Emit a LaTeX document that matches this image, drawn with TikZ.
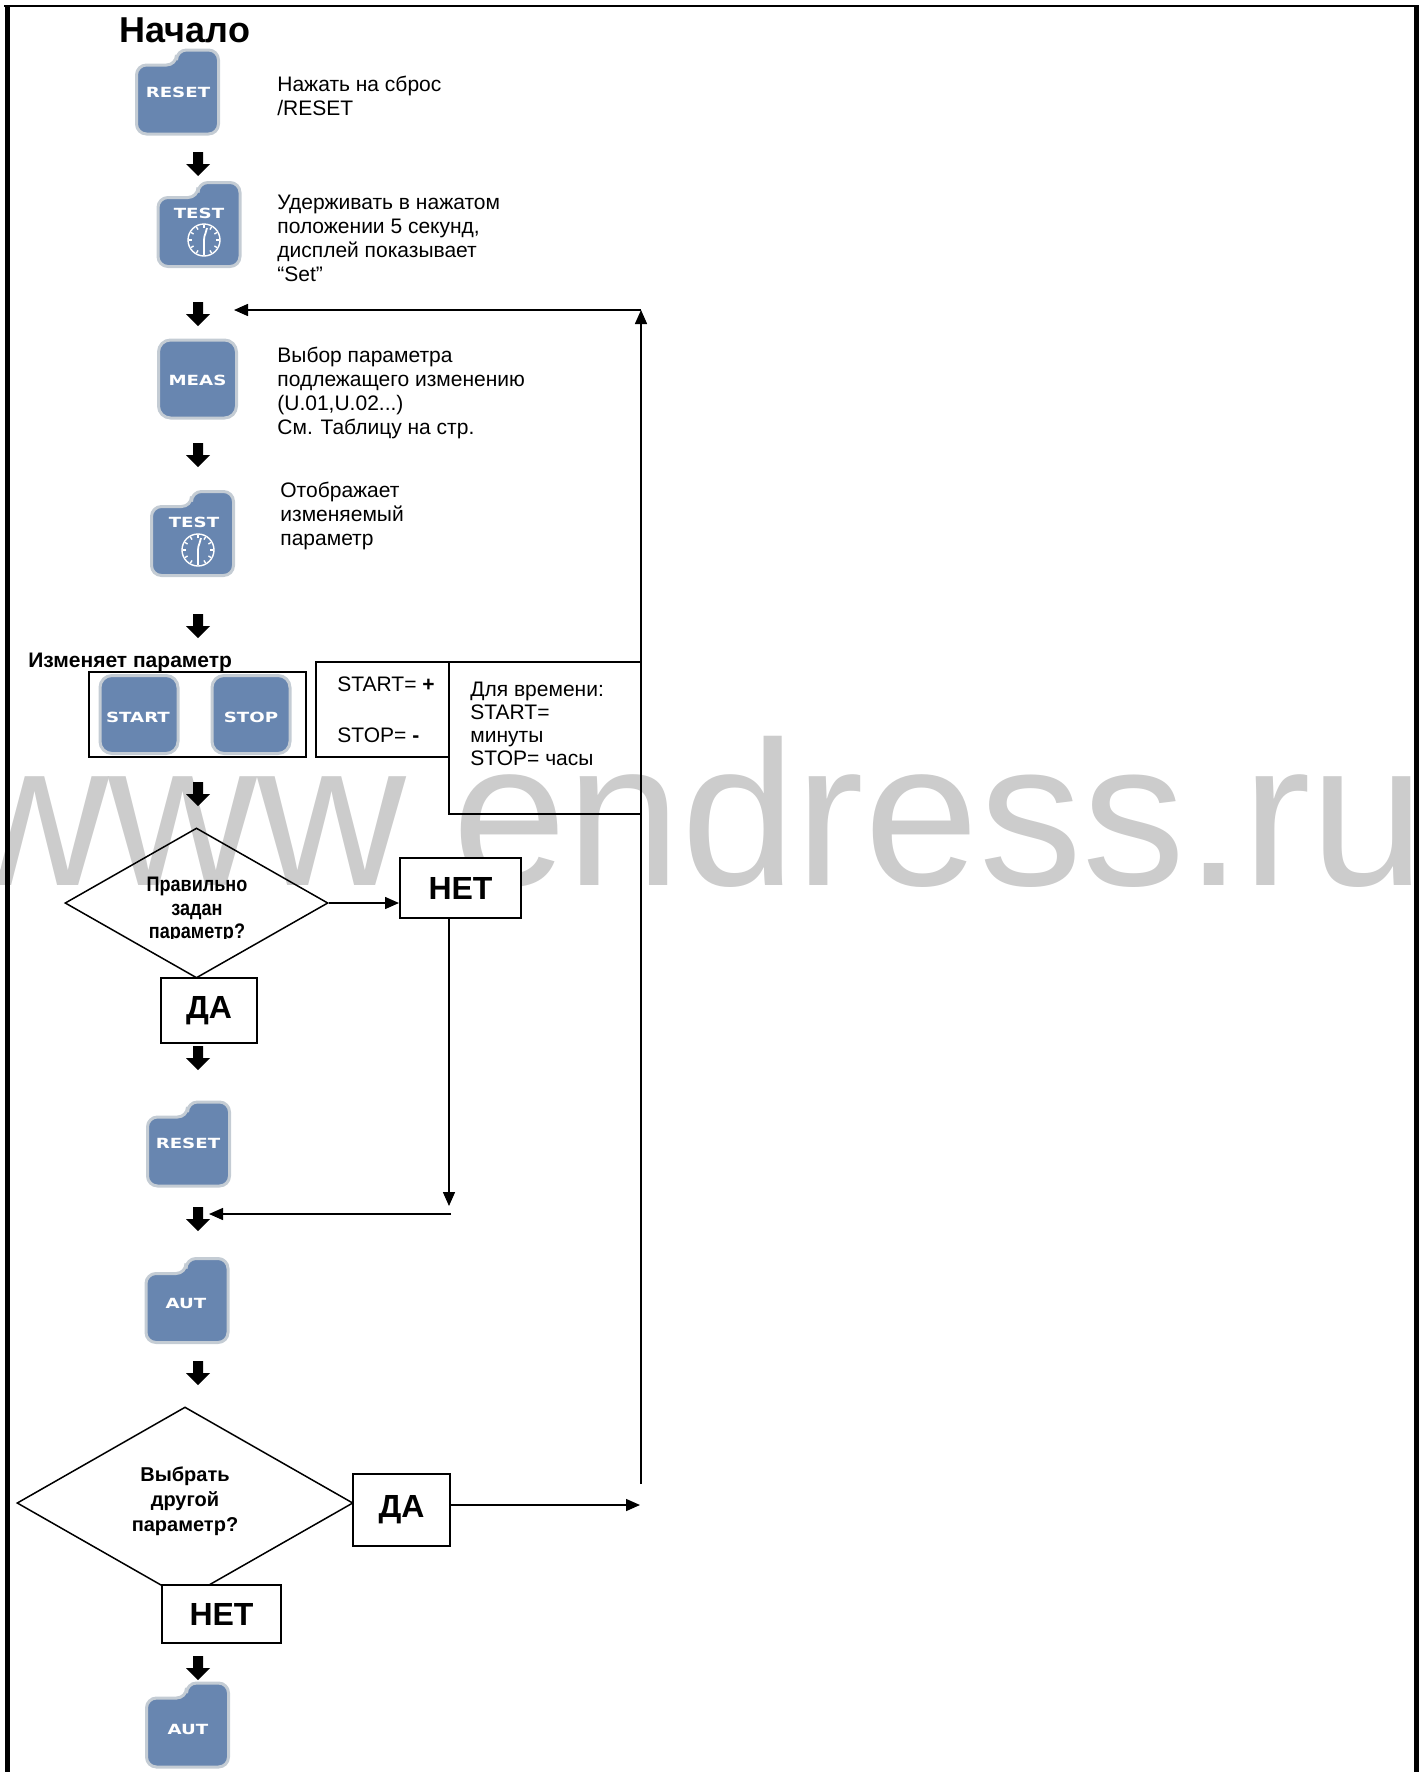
\documentclass[tikz,border=0pt]{standalone}
\usepackage{fontspec}
\setmainfont{Liberation Sans}
\newfontfamily\narrowfont[FakeStretch=0.86]{Liberation Sans}
\newfontfamily\keyfont[FakeStretch=1.3]{DejaVu Sans}
\usetikzlibrary{arrows.meta,shapes.geometric}
\definecolor{keyblue}{RGB}{104,134,176}
\definecolor{keyrim}{RGB}{196,204,212}
\definecolor{wmgray}{RGB}{204,204,204}

\tikzset{
  tabkey/.pic={\filldraw[draw=keyrim,fill=keyblue,line width=1.5pt,rounded corners=5pt]
      (-41,-27) -- (-1,-27) -- (-1,-42) -- (41,-42) -- (41,42) -- (-41,42) -- cycle;},
  flatkey/.pic={\filldraw[draw=keyrim,fill=keyblue,line width=1.5pt,rounded corners=6pt]
      (-39,-39) rectangle (39,39);},
  dial/.pic={\draw[white,line width=0.7pt] (0,0) circle (16);
      \foreach \a in {0,30,...,330} \draw[white,line width=0.7pt] (\a:12) -- (\a:15);
      \draw[white,line width=0.9pt] (0,13) -- (0,0) .. controls (0,-6) and (3,-8) .. (3,-12);},
  fatdown/.pic={\fill (-5,0) -- (5,0) -- (5,12) -- (12,12) -- (0,24) -- (-12,12) -- (-5,12) -- cycle;},
  keylbl/.style={text=white,inner sep=0,font=\keyfont\bfseries\fontsize{7}{8}\selectfont},
  body/.style={inner sep=0,font=\fontsize{10.5}{12}\selectfont},
  note/.style={body,anchor=north west,align=left},
  thinline/.style={line width=0.75pt},
  linkarrow/.style={thinline,-{Triangle[length=7pt,width=6pt]}},
  ansbox/.style={draw,line width=1pt,fill=white,inner sep=0,font=\bfseries\fontsize{16}{18}\selectfont},
  dtextA/.style={align=center,inner sep=0,font=\narrowfont\bfseries\fontsize{10.5}{11.75}\selectfont},
  dtextB/.style={align=center,inner sep=0,font=\bfseries\fontsize{10}{12.5}\selectfont},
}

\begin{document}
\begin{tikzpicture}
\tikzset{x={(0.5pt,0pt)}, y={(0pt,-0.5pt)}}
\useasboundingbox (0,0) rectangle (1424,1772);

\draw[thinline] (316,662) rectangle (462,757);
\fill[white] (449,662) rectangle (641,814);
\node[anchor=base east,inner sep=0,text=wmgray,font=\fontsize{103}{103}\selectfont] (wm) at (1426,885) {www.endress.ru};
\draw[thinline] (449,662) rectangle (641,814);

\draw[line width=2.5pt] (7,5) -- (7,1772);
\draw[line width=2.5pt] (1416,5) -- (1416,1772);
\draw[line width=1.2pt] (4,6) -- (1419,6);

\node[anchor=base,inner sep=0,font=\bfseries\fontsize{18}{20}\selectfont] (start) at (185,42) {Начало};

\pic at (177.5,92) {tabkey};
\node[keylbl] (reset1) at (178,92) {RESET};
\node[note] (n1) at (277,75.5) {Нажать на сброс\\/RESET};
\pic at (198,152) {fatdown};

\pic at (199,224.5) {tabkey};
\pic at (204,240) {dial};
\node[keylbl] (test1) at (199,213.5) {TEST};
\node[note] (n2) at (277,195) {Удерживать в нажатом\\положении 5 секунд,\\дисплей показывает\\“Set”};
\pic at (198,302) {fatdown};

\pic at (197.5,379) {flatkey};
\node[keylbl] (meas) at (197.5,380) {MEAS};
\node[note] (n3) at (277,347) {Выбор параметра\\подлежащего изменению\\(U.01,U.02...)\\См. Таблицу на стр.};
\pic at (198,443) {fatdown};

\pic at (192.5,533.5) {tabkey};
\pic at (198,550) {dial};
\node[keylbl] (test2) at (194,522) {TEST};
\node[note] (n4) at (280,481.5) {Отображает\\изменяемый\\параметр};
\pic at (198,614) {fatdown};

\node[body,anchor=base west,font=\bfseries\fontsize{10.5}{12}\selectfont] (chg) at (28,667) {Изменяет параметр};
\draw[line width=1.2pt] (89,672) rectangle (306,757);
\pic at (139,714.5) {flatkey};
\node[keylbl] (startk) at (138,717) {START};
\pic at (251,714.5) {flatkey};
\node[keylbl] (stopk) at (251,717) {STOP};

\node[body,anchor=base west] (plus) at (337,691) {START= \textbf{+}};
\node[body,anchor=base west] (minus) at (337,742) {STOP= \textbf{-}};
\node[note,font=\fontsize{10.5}{11.5}\selectfont] (n5) at (470,682) {Для времени:\\START=\\минуты\\STOP= часы};
\pic at (198,782) {fatdown};

\node[diamond,draw,thinline,minimum width=131.5pt,minimum height=75pt,inner sep=0] (dia1) at (196.5,903) {};
\begin{scope}
\clip (60,820) rectangle (340,938);
\node[dtextA] (q1) at (197,910) {Правильно\\задан\\параметр?};
\end{scope}
\node[ansbox,minimum width=48pt,minimum height=32.5pt] (yes1) at (209,1010.5) {ДА};
\node[ansbox,minimum width=60.5pt,minimum height=30pt] (no1) at (460.5,888) {НЕТ};
\draw[linkarrow] (dia1.east) -- (dia1.east -| no1.west);

\coordinate (retdn) at (449,1206);
\draw[linkarrow] (no1.south -| retdn) -- (retdn);
\coordinate (retst) at (451,1214);
\coordinate (retend) at (209,1214);
\draw[linkarrow] (retst) -- (retend);

\pic at (198,1046) {fatdown};
\pic at (188.5,1144) {tabkey};
\node[keylbl] (reset2) at (188,1143) {RESET};
\pic at (198,1207) {fatdown};
\pic at (187,1300.5) {tabkey};
\node[keylbl] (aut1) at (186,1303) {AUT};
\pic at (198,1361) {fatdown};

\node[diamond,draw,thinline,minimum width=168pt,minimum height=96pt,inner sep=0] (dia2) at (185,1503) {};
\node[dtextB] (q2) at (185,1501) {Выбрать\\другой\\параметр?};
\node[ansbox,minimum width=48.5pt,minimum height=36pt] (yes2) at (401.5,1510) {ДА};
\node[ansbox,minimum width=59.5pt,minimum height=29pt] (no2) at (221.5,1614) {НЕТ};
\coordinate (loopin) at (640,1505);
\draw[linkarrow] (yes2.east |- loopin) -- (loopin);
\coordinate (loopbot) at (641,1484);
\coordinate (looptop) at (641,310);
\coordinate (loopend) at (234,310);
\draw[linkarrow] (loopbot) -- (looptop);
\draw[linkarrow] (looptop) -- (loopend);

\pic at (198,1656) {fatdown};
\pic at (187.5,1725) {tabkey};
\node[keylbl] (aut2) at (188,1729) {AUT};
\end{tikzpicture}
\end{document}
